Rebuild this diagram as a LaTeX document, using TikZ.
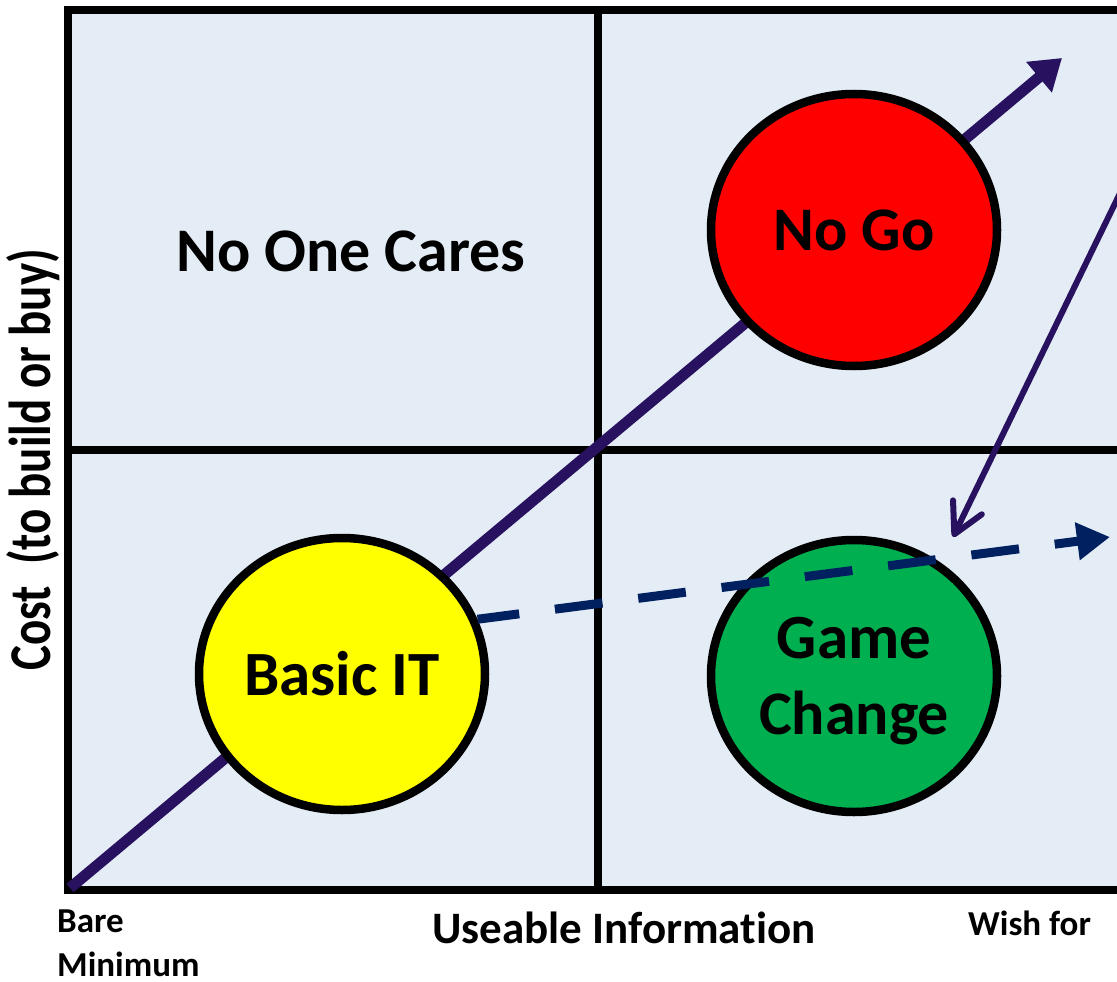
\documentclass[tikz,border=0pt]{standalone}
\usepackage{fontspec}
\setmainfont{Carlito}[Ligatures=NoCommon]
\usepackage{graphicx}
\usetikzlibrary{arrows.meta,shapes.geometric,positioning}

\definecolor{panelblue}{HTML}{E4ECF5}
\definecolor{climbpurple}{HTML}{28125F}
\definecolor{trendnavy}{HTML}{002060}
\definecolor{nogored}{HTML}{FF0000}
\definecolor{basicyellow}{HTML}{FFFF00}
\definecolor{gamegreen}{HTML}{00B050}

\begin{document}
\begin{tikzpicture}[x=1pt, y=-1pt,
    blob/.style={ellipse, draw, line width=8.5pt, minimum width=286pt, minimum height=272pt,
        inner sep=0pt, align=center, font=\bfseries\fontsize{62}{76}\selectfont},
    divider/.style={line width=7.5pt},
    climb/.style={line width=11pt, color=climbpurple, -{Triangle[length=30pt, width=38pt]}},
    trend/.style={line width=9pt, color=trendnavy, dash pattern=on 48pt off 36pt, dash phase=6pt,
        -{Triangle[length=33pt, width=36pt]}},
    pull/.style={line width=6pt, color=climbpurple, line cap=round,
        -{Straight Barb[length=30pt, width=32pt, round]}},
    endlabel/.style={inner sep=0pt, font=\bfseries\fontsize{35}{44}\selectfont}
]
\useasboundingbox (0,0) rectangle (1117,982);

% quadrants
\fill[panelblue] (68,10) rectangle (1128,890);
\draw[divider] (598,10) -- (598,890);
\draw[divider] (68,450) -- (1128,450);
\draw[divider] (68,10) rectangle (1128,890);

% main diagonal
\coordinate (origin) at (70,888);
\coordinate (top) at (1062,58);
\draw[climb] (origin) -- (top);

\node[blob, fill=basicyellow] (basic) at (342,674) {\fontsize{63}{76}\selectfont Basic IT};
\node[blob, fill=nogored] (nogo) at (854,230) {No Go};
\node[blob, fill=gamegreen, text depth=0pt] (game) at (854,676) {\fontsize{63}{75}\selectfont Game\\Change};

% side moves
\coordinate (drift) at (1110,537);
\draw[trend] (basic.22) -- (drift);
\coordinate (far) at (1141,150);
\coordinate (drop) at (953,537);
\draw[pull] (far) -- (drop);

\node[anchor=base, inner sep=0pt, font=\bfseries\fontsize{62}{74}\selectfont] (cares) at (351,271)
    {No One Cares};
\node[anchor=base, inner sep=0pt, font=\bfseries\fontsize{45}{54}\selectfont] (xaxis) at (624,943)
    {Useable Information};
\node[rotate=90, anchor=base, inner sep=0pt, font=\bfseries\fontsize{47}{56}\selectfont] (yaxis) at (50,460)
    {\scalebox{1}[1.26]{Cost\ \ (to build or buy)}};
\node[endlabel, anchor=north west, align=left] (bare) at (57,910) {Bare\\Minimum};
\node[endlabel, anchor=base west] (wishfor) at (968,935) {Wish for};

\end{tikzpicture}
\end{document}
